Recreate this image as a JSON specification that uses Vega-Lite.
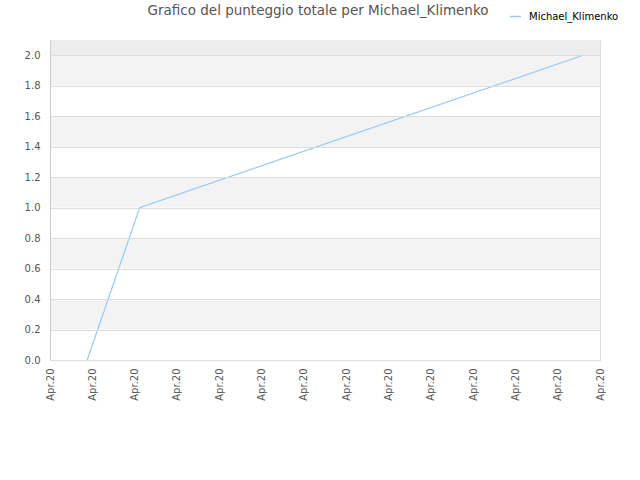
{
  "$schema": "https://vega.github.io/schema/vega-lite/v6.json",
  "width": 550,
  "height": 320,
  "autosize": {"type": "none"},
  "padding": {"left": 50, "top": 40, "right": 40, "bottom": 120},
  "background": "white",
  "title": {
    "text": "Grafico del punteggio totale per Michael_Klimenko",
    "anchor": "middle",
    "frame": "group",
    "dx": -7,
    "dy": 25,
    "offset": 18,
    "font": "DejaVu Sans",
    "fontSize": 13.5,
    "fontWeight": "normal",
    "color": "#555555"
  },
  "config": {
    "view": {"stroke": "#dddddd"},
    "axis": {
      "labelFont": "DejaVu Sans",
      "labelFontSize": 10,
      "labelColor": "#555555",
      "domainColor": "#cccccc",
      "ticks": false,
      "title": null,
      "labelOverlap": false
    }
  },
  "datasets": {
    "bands": [
      {"lo": 0.2, "hi": 0.4, "tone": "a"},
      {"lo": 0.6, "hi": 0.8, "tone": "a"},
      {"lo": 1.0, "hi": 1.2, "tone": "a"},
      {"lo": 1.4, "hi": 1.6, "tone": "a"},
      {"lo": 1.8, "hi": 2.0, "tone": "a"},
      {"lo": 2.0, "hi": 2.1, "tone": "b"}
    ],
    "scores": [
      {"t": 0.88, "score": 0, "player": "Michael_Klimenko"},
      {"t": 2.12, "score": 1, "player": "Michael_Klimenko"},
      {"t": 12.6, "score": 2, "player": "Michael_Klimenko"}
    ]
  },
  "resolve": {"scale": {"color": "independent"}},
  "layer": [
    {
      "data": {"name": "bands"},
      "mark": {"type": "rect"},
      "encoding": {
        "y": {
          "field": "lo",
          "type": "quantitative",
          "scale": {"domain": [0, 2.1], "nice": false},
          "axis": {
            "values": [0, 0.2, 0.4, 0.6, 0.8, 1.0, 1.2, 1.4, 1.6, 1.8, 2.0],
            "format": ".1f",
            "labelPadding": 10,
            "labelOverlap": false,
            "grid": true,
            "gridColor": "#dddddd",
            "zindex": 1
          }
        },
        "y2": {"field": "hi"},
        "color": {
          "field": "tone",
          "type": "nominal",
          "scale": {"domain": ["a", "b"], "range": ["#f3f3f3", "#ededed"]},
          "legend": null
        }
      }
    },
    {
      "data": {"name": "scores"},
      "mark": {"type": "line", "strokeWidth": 1.2, "zindex": 2},
      "encoding": {
        "x": {
          "field": "t",
          "type": "quantitative",
          "scale": {"domain": [0, 13], "nice": false, "zero": false},
          "axis": {
            "values": [0, 1, 2, 3, 4, 5, 6, 7, 8, 9, 10, 11, 12, 13],
            "labelExpr": "'Apr.20'",
            "labelAngle": -90,
            "labelAlign": "right",
            "labelBaseline": "middle",
            "labelPadding": 8,
            "grid": false
          }
        },
        "y": {
          "field": "score",
          "type": "quantitative",
          "scale": {"domain": [0, 2.1], "nice": false},
          "axis": {
            "values": [0, 0.2, 0.4, 0.6, 0.8, 1.0, 1.2, 1.4, 1.6, 1.8, 2.0],
            "format": ".1f",
            "labelPadding": 10,
            "labelOverlap": false,
            "grid": true,
            "gridColor": "#dddddd",
            "zindex": 1
          }
        },
        "color": {
          "field": "player",
          "type": "nominal",
          "scale": {"range": ["#99c8f5"]},
          "legend": {
            "title": null,
            "orient": "none",
            "legendX": 459,
            "legendY": -30,
            "symbolType": "stroke",
            "symbolSize": 120,
            "symbolStrokeWidth": 1.5,
            "labelOffset": 7,
            "labelFont": "DejaVu Sans",
            "labelFontSize": 10,
            "labelColor": "#000000"
          }
        }
      }
    }
  ]
}
